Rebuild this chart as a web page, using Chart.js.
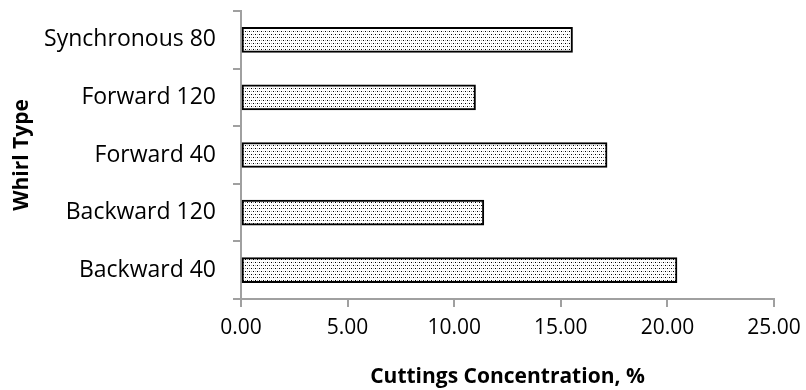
<!DOCTYPE html>
<html>
<head>
<meta charset="utf-8">
<script src="https://cdn.jsdelivr.net/npm/chart.js@4"></script>
<style>
  html, body { margin: 0; padding: 0; background: #fff; }
  #wrap { width: 806px; height: 390px; }
</style>
</head>
<body>
<div id="wrap"><canvas id="myChart"></canvas></div>
<script>
// categories top to bottom
const whirlTypes = ['Synchronous 80', 'Forward 120', 'Forward 40', 'Backward 120', 'Backward 40'];
const concentration = [15.55, 11.0, 17.17, 11.39, 20.45];
const xTicks = [0, 5, 10, 15, 20, 25];

// dotted fill like the excel pattern
function dotPattern() {
    const c = document.createElement('canvas');
    c.width = 4;
    c.height = 6;
    const g = c.getContext('2d');
    g.fillStyle = '#ffffff';
    g.fillRect(0, 0, 4, 6);
    g.fillStyle = '#000000';
    g.fillRect(1, 1, 1, 1);
    g.fillRect(3, 4, 1, 1);
    g.fillStyle = '#b0b0b0';
    g.fillRect(3, 1, 1, 1);
    g.fillRect(1, 4, 1, 1);
    return g.createPattern(c, 'repeat');
}

Chart.defaults.font.family = '"Open Sans", sans-serif';
Chart.defaults.color = '#000000';

const ctx = document.getElementById('myChart');

const chart = new Chart(ctx, {
    type: 'bar',
    data: {
        labels: whirlTypes,
        datasets: [{
            data: concentration,
            backgroundColor: dotPattern(),
            borderColor: '#000000',
            borderWidth: 2,
            borderSkipped: false,
            barThickness: 25
        }]
    },
    options: {
        indexAxis: 'y',
        animation: false,
        maintainAspectRatio: false,
        responsive: true,
        layout: {
            padding: { top: 11, right: 32, left: 0, bottom: 0 }
        },
        plugins: {
            legend: { display: false },
            tooltip: { enabled: false }
        },
        scales: {
            x: {
                min: 0,
                max: 25,
                afterBuildTicks: function(axis) {
                    axis.ticks = xTicks.map(v => ({ value: v }));
                },
                afterFit: function(axis) {
                    axis.height = 91;
                    axis.paddingLeft = 0;
                    axis.paddingRight = 0;
                },
                border: { color: '#a0a0a0', width: 2 },
                grid: {
                    drawOnChartArea: false,
                    drawTicks: true,
                    tickLength: 8,
                    color: '#a0a0a0',
                    lineWidth: 2
                },
                ticks: {
                    font: { size: 21 },
                    padding: 8,
                    maxRotation: 0,
                    callback: function(v) { return Number(v).toFixed(2); }
                },
                title: {
                    display: true,
                    text: 'Cuttings Concentration, %',
                    font: { size: 21, weight: 'bold' },
                    padding: { top: 6, bottom: 0 }
                }
            },
            y: {
                afterFit: function(axis) {
                    axis.width = 241;
                    axis.paddingTop = 0;
                    axis.paddingBottom = 0;
                },
                border: { color: '#a0a0a0', width: 2 },
                grid: {
                    drawOnChartArea: false,
                    drawTicks: true,
                    tickLength: 8,
                    color: '#a0a0a0',
                    lineWidth: 2
                },
                ticks: {
                    font: { size: 23 },
                    padding: 17
                },
                title: {
                    display: true,
                    text: 'Whirl Type',
                    font: { size: 21, weight: 'bold' },
                    padding: { top: 9, bottom: 0 }
                }
            }
        }
    }
});
</script>
</body>
</html>
